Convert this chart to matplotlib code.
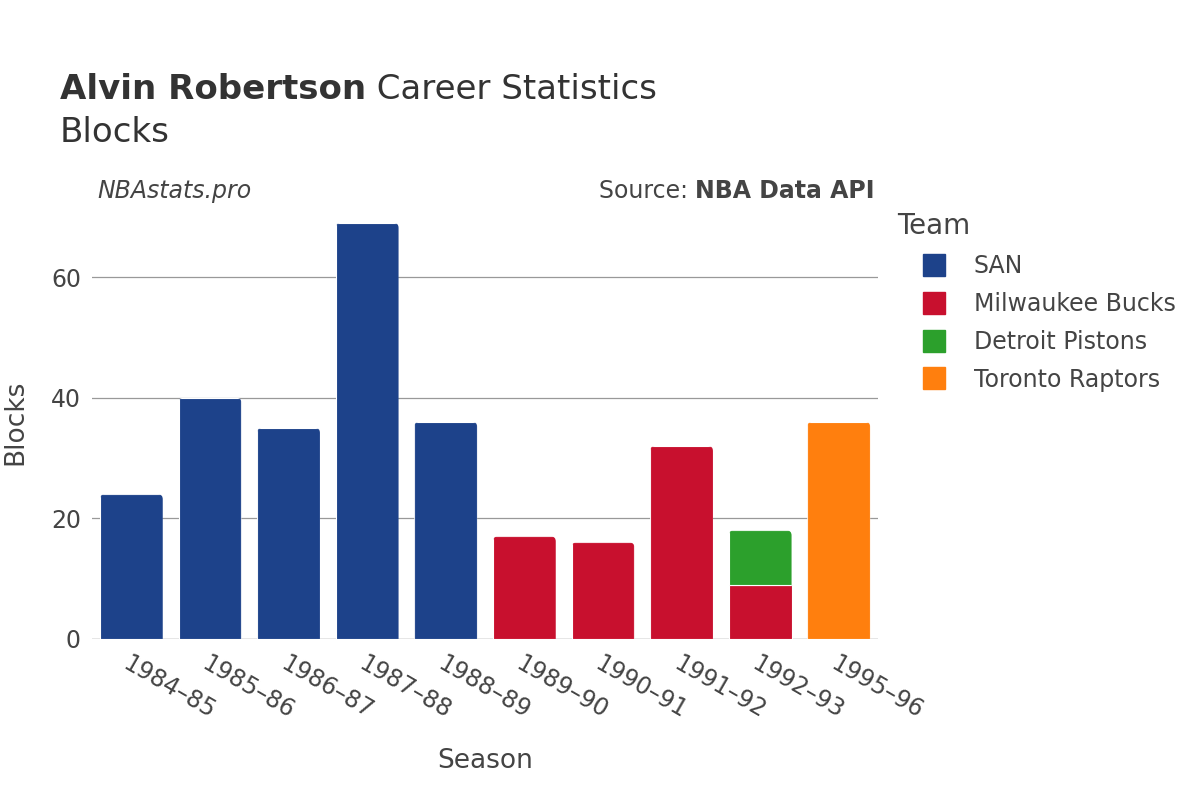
import matplotlib.pyplot as plt
from matplotlib.lines import Line2D
from matplotlib.patches import FancyBboxPatch
import numpy as np

# data
seasons = ["1984–85", "1985–86", "1986–87", "1987–88", "1988–89",
           "1989–90", "1990–91", "1991–92", "1992–93", "1995–96"]
san = [24, 40, 35, 69, 36, 0, 0, 0, 0, 0]
milwaukee = [0, 0, 0, 0, 0, 17, 16, 32, 9, 0]
detroit = [0, 0, 0, 0, 0, 0, 0, 0, 9, 0]
toronto = [0, 0, 0, 0, 0, 0, 0, 0, 0, 36]

teams = ["SAN", "Milwaukee Bucks", "Detroit Pistons", "Toronto Raptors"]
colors = ["#1D428A", "#C8102E", "#2CA02C", "#FF7F0E"]
TXT = "#444444"
TITLE = "#333333"

plt.rcParams["font.family"] = ["DejaVu Sans"]

fig = plt.figure(figsize=(12, 8), dpi=100)
ax = fig.add_axes([0.0767, 0.2013, 0.655, 0.5427])
ax.set_xlim(-0.5, len(seasons) - 0.5)
ax.set_ylim(0, 72)

x = np.arange(len(seasons))
totals = np.sum([san, milwaukee, detroit, toronto], axis=0)
bottom = np.zeros(len(seasons))
px_x = 786 / len(seasons)      # pixels per x unit
px_y = 434 / 72                # pixels per y unit
r = 5 / px_x                   # corner radius in x units
for vals, col in zip([san, milwaukee, detroit, toronto], colors):
    vals = np.array(vals, dtype=float)
    mask = vals > 0
    bars = ax.bar(x[mask], vals[mask], width=0.8, bottom=bottom[mask],
                  color=col, edgecolor="white", linewidth=0.8, zorder=3)
    for b, i in zip(bars, x[mask]):
        if np.isclose(bottom[i] + vals[i], totals[i]):
            # round the top corners of the topmost segment
            clip = FancyBboxPatch((b.get_x(), b.get_y() - 3),
                                  b.get_width(), b.get_height() + 3,
                                  boxstyle=f"round,pad=0,rounding_size={r}",
                                  mutation_aspect=px_x / px_y,
                                  transform=ax.transData)
            b.set_clip_path(clip)
    bottom += vals

ax.set_yticks([0, 20, 40, 60])
ax.grid(axis="y", color="#999999", linewidth=0.9, zorder=0)
ax.axhline(0, color="#e5e5e5", linewidth=2, zorder=2)
for s in ax.spines.values():
    s.set_visible(False)
ax.tick_params(axis="both", length=0, labelsize=17, labelcolor=TXT)
ax.tick_params(axis="y", pad=8)
ax.set_xticks(x)
ax.set_xticklabels(seasons, rotation=-30, ha="left", va="top",
                   rotation_mode="anchor")
ax.tick_params(axis="x", pad=9)

ax.set_xlabel("Season", fontsize=19, color=TXT, labelpad=18)
ax.set_ylabel("Blocks", fontsize=19, color=TXT, labelpad=16)

t1 = fig.text(0.05, 0.888, "Alvin Robertson", fontsize=24.5,
              fontweight="bold", color=TITLE, va="center")
fig.canvas.draw()
bb = t1.get_window_extent()
fig.text(bb.x1 / fig.bbox.width, 0.888, " Career Statistics", fontsize=24.5,
         color=TITLE, va="center")
fig.text(0.05, 0.835, "Blocks", fontsize=24.5, color=TITLE, va="center")
fig.text(0.081, 0.761, "NBAstats.pro", fontsize=17, style="italic",
         color=TXT, va="center")
src = fig.text(0.729, 0.761, "NBA Data API", fontsize=17, fontweight="bold",
               color=TXT, va="center", ha="right")
fig.canvas.draw()
bb = src.get_window_extent()
fig.text(bb.x0 / fig.bbox.width, 0.761, "Source: ", fontsize=17,
         color=TXT, va="center", ha="right")

fig.text(0.7475, 0.7175, "Team", fontsize=20, color=TXT, va="center")
handles = [Line2D([0], [0], marker="s", linestyle="none", markersize=16.5,
                  markerfacecolor=c, markeredgecolor=c) for c in colors]
leg = fig.legend(handles, teams, loc="upper left",
                 bbox_to_anchor=(0.7504, 0.694), frameon=False, fontsize=17,
                 labelcolor=TXT, handletextpad=0.7,
                 labelspacing=0.585, borderaxespad=0)

fig.savefig("out.png", dpi=100)
